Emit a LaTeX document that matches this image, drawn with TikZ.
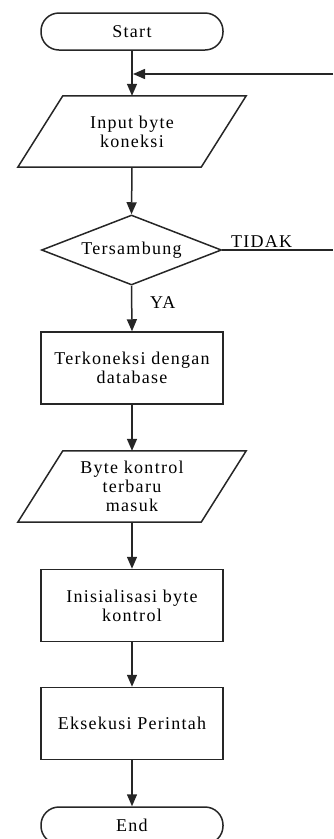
\documentclass[tikz,border=0pt]{standalone}
\usepackage{fontspec}
\setmainfont{Liberation Serif}[LetterSpace=7]
\usetikzlibrary{arrows.meta,shapes.geometric}
\begin{document}
\begin{tikzpicture}[x=1pt,y=-1pt,
  every node/.style={font=\fontsize{18}{19}\selectfont, text=black, align=center},
  flow/.style={line width=1.5pt, draw=black!85},
  arrowline/.style={flow, -{Triangle[width=10pt,length=12pt]}},
  terminal/.style={draw=black!85, line width=1.5pt, rectangle, rounded corners=18pt,
    minimum width=182pt, minimum height=37pt, inner sep=0pt},
  process/.style={draw=black!85, line width=1.5pt, rectangle,
    minimum width=182pt, minimum height=72pt, inner sep=0pt},
  iobox/.style={rectangle, minimum width=183pt, minimum height=71pt, inner sep=0pt},
  decision/.style={draw=black!85, line width=1.5pt, diamond, aspect=2.57,
    minimum width=180pt, minimum height=70pt, inner sep=0pt},
  label/.style={font=\fontsize{18}{19}\selectfont}
]
\useasboundingbox (0,0) rectangle (333,839);

% steps of the flow
\node[terminal] (start) at (132,31.5) {Start};
\node[iobox] (in1) at (132,131.5) {Input byte\\koneksi};
\node[decision] (dia) at (131.5,250) {Tersambung};
\node[process] (db) at (132,368) {Terkoneksi dengan\\database};
\node[iobox] (in2) at (132,486.5) {Byte kontrol\\terbaru\\masuk};
\node[process] (init) at (132,605.5) {Inisialisasi byte\\kontrol};
\node[process] (exec) at (132,723.5) {Eksekusi Perintah};
\node[terminal] (end) at (132,825.5) {End};

% slanted input/output boxes
\foreach \n in {in1,in2}{
  \draw[flow, line join=miter]
    ([xshift=22.5pt]\n.north west) -- ([xshift=22.5pt]\n.north east) --
    ([xshift=-22.5pt]\n.south east) -- ([xshift=-22.5pt]\n.south west) -- cycle;
}

% loop-back ends at the right border
\coordinate (backR) at (333,74);
\coordinate (noR) at (333,250);

% connectors
\draw[arrowline] (start) -- (in1.north);
\draw[arrowline] (backR) -- ([xshift=1pt]start.south |- backR);
\draw[arrowline] (in1.south) -- (dia.north);
\draw[flow] (dia.east) -- (noR);
\draw[arrowline] (dia.south) -- (db.north);
\draw[arrowline] (db.south) -- (in2.north);
\draw[arrowline] (in2.south) -- (init.north);
\draw[arrowline] (init) -- (exec);
\draw[arrowline] (exec) -- (end);

% branch labels
\node[label, anchor=base west, inner sep=0pt] (tidak) at (231,247) {TIDAK};
\node[label, anchor=base west, inner sep=0pt] (ya) at (150,308) {YA};
\end{tikzpicture}
\end{document}
